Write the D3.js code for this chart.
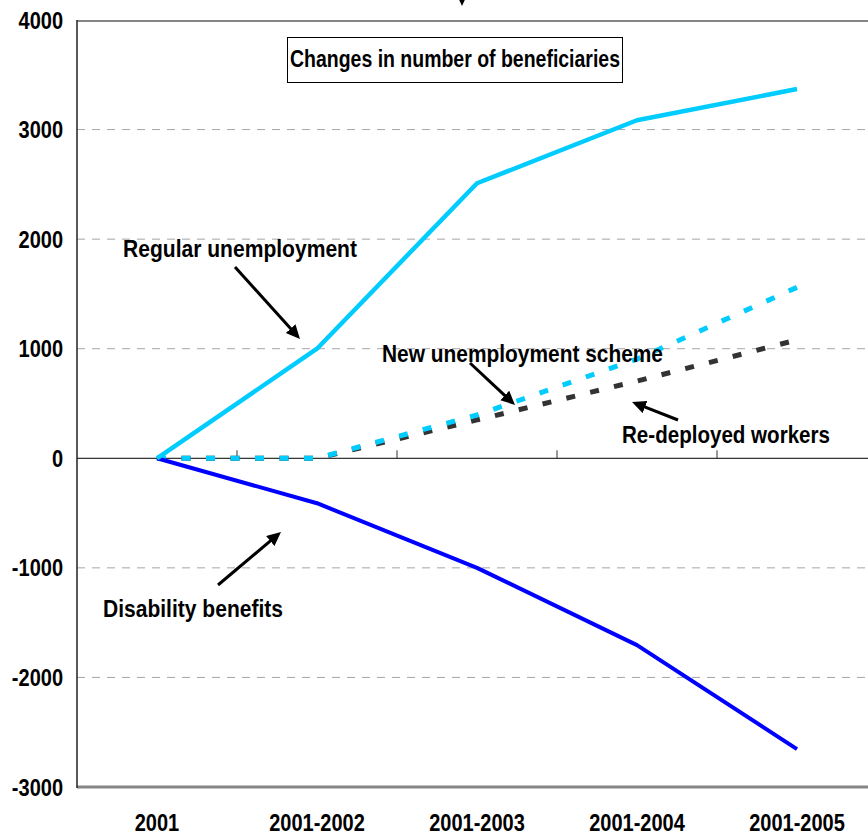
<!DOCTYPE html>
<html>
<head>
<meta charset="utf-8">
<script src="https://cdn.jsdelivr.net/npm/d3@7"></script>
<style>
  html, body { margin: 0; padding: 0; background: #fff; }
  svg { display: block; }
  text { font-family: "Liberation Sans", Arial, sans-serif; font-weight: bold; fill: #000; }
</style>
</head>
<body>
<svg id="chart" width="868" height="835"></svg>
<script>
// data
const categories = ["2001", "2001-2002", "2001-2003", "2001-2004", "2001-2005"];
const regularUnemployment = [0, 1000, 2510, 3085, 3370];
const disabilityBenefits = [0, -410, -1000, -1705, -2655];
const newUnemploymentScheme = [0, 0, 395, 905, 1560];
const redeployedWorkers = [0, 0, 350, 705, 1080];
const yTicks = [4000, 3000, 2000, 1000, 0, -1000, -2000, -3000];

const svg = d3.select("#chart");
const svgWidth = 868;
const plotLeft = 77, plotTop = 20, plotBottom = 787;

// scales
const x = d3.scaleBand().domain(categories).range([plotLeft, plotLeft + 800]).padding(0);
const cx = (c) => x(c) + x.bandwidth() / 2;
const y = d3.scaleLinear().domain([-3000, 4000]).range([plotBottom, plotTop]);

const squeeze = 0.87; // the source font is horizontally condensed

// gridlines
svg.append("g")
  .selectAll("line.grid")
  .data(yTicks.filter(v => v !== 0 && v !== 4000 && v !== -3000))
  .enter()
  .append("line")
  .attr("class", "grid")
  .attr("x1", plotLeft).attr("x2", svgWidth)
  .attr("y1", d => y(d)).attr("y2", d => y(d))
  .attr("stroke", "#a6a6a6")
  .attr("stroke-width", 1)
  .attr("stroke-dasharray", "8,7");

// zero line with category ticks
svg.append("line")
  .attr("x1", plotLeft).attr("x2", svgWidth)
  .attr("y1", y(0)).attr("y2", y(0))
  .attr("stroke", "#000").attr("stroke-width", 1);

svg.append("g")
  .selectAll("line.ctick")
  .data(categories.slice(1))
  .enter()
  .append("line")
  .attr("class", "ctick")
  .attr("x1", d => x(d)).attr("x2", d => x(d))
  .attr("y1", y(0) - 8).attr("y2", y(0))
  .attr("stroke", "#333").attr("stroke-width", 1);

// plot frame
svg.append("line").attr("x1", plotLeft).attr("x2", svgWidth).attr("y1", plotTop + 1).attr("y2", plotTop + 1)
  .attr("stroke", "#858585").attr("stroke-width", 2);
svg.append("line").attr("x1", plotLeft).attr("x2", svgWidth).attr("y1", plotBottom).attr("y2", plotBottom)
  .attr("stroke", "#858585").attr("stroke-width", 3);
svg.append("line").attr("x1", plotLeft).attr("x2", plotLeft).attr("y1", plotTop).attr("y2", plotBottom + 1)
  .attr("stroke", "#222").attr("stroke-width", 1.5);

// y axis labels (plain hyphen for negatives, like the source)
const yAxis = svg.append("g")
  .attr("transform", "translate(" + plotLeft + ",0)")
  .call(d3.axisLeft(y).tickValues(yTicks).tickSize(0).tickFormat(d => String(d)));
yAxis.select(".domain").remove();
yAxis.attr("font-family", null).attr("font-size", null);
yAxis.selectAll("text")
  .attr("font-size", 23)
  .attr("x", -14 / squeeze)
  .attr("dy", "0.35em")
  .attr("transform", "scale(" + squeeze + ",1)");

// x axis labels
const xAxis = svg.append("g")
  .attr("transform", "translate(0,815)")
  .call(d3.axisBottom(x).tickSize(0));
xAxis.select(".domain").remove();
xAxis.attr("font-family", null).attr("font-size", null);
xAxis.selectAll(".tick")
  .attr("transform", d => "translate(" + cx(d) + ",0)");
xAxis.selectAll(".tick text")
  .attr("font-size", 23)
  .attr("y", 0)
  .attr("dy", "0.7em")
  .attr("x", 0)
  .attr("transform", "scale(" + squeeze + ",1)");

// series
const line = d3.line()
  .x((d, i) => cx(categories[i]))
  .y(d => y(d));

const series = [
  { values: redeployedWorkers, color: "#333333", dash: "9,15.5", width: 5 },
  { values: newUnemploymentScheme, color: "#00ccff", dash: "9,15.5", width: 5 },
  { values: disabilityBenefits, color: "#0000ff", dash: null, width: 4 },
  { values: regularUnemployment, color: "#00ccff", dash: null, width: 4.5 }
];

svg.append("g")
  .selectAll("path.curve")
  .data(series)
  .enter()
  .append("path")
  .attr("class", "curve")
  .attr("d", d => line(d.values))
  .attr("fill", "none")
  .attr("stroke", d => d.color)
  .attr("stroke-width", d => d.width)
  .attr("stroke-dasharray", d => d.dash)
  .attr("stroke-linejoin", "round");

// arrow marker
svg.append("defs").append("marker")
  .attr("id", "head")
  .attr("markerUnits", "userSpaceOnUse")
  .attr("markerWidth", 16).attr("markerHeight", 14)
  .attr("viewBox", "0 0 16 14")
  .attr("refX", 6).attr("refY", 6.5)
  .attr("orient", "auto")
  .append("path")
  .attr("d", "M0,0 L14,6.5 L0,13 Z")
  .attr("fill", "#000");

const arrows = [
  [235, 267, 300, 339],
  [470, 363, 515, 405],
  [678, 420, 632, 402],
  [218, 585, 281, 532],
  [462, -40, 462, 6]
];

svg.append("g")
  .selectAll("line.arrow")
  .data(arrows)
  .enter()
  .append("line")
  .attr("class", "arrow")
  .each(function(d) {
    const dx = d[2] - d[0], dy = d[3] - d[1];
    const len = Math.sqrt(dx * dx + dy * dy);
    d3.select(this)
      .attr("x1", d[0]).attr("y1", d[1])
      .attr("x2", d[2] - 8 * dx / len).attr("y2", d[3] - 8 * dy / len);
  })
  .attr("stroke", "#000")
  .attr("stroke-width", 3)
  .attr("marker-end", "url(#head)");

// legend box
svg.append("rect")
  .attr("x", 287.5).attr("y", 37.5)
  .attr("width", 335).attr("height", 45)
  .attr("fill", "#fff")
  .attr("stroke", "#000").attr("stroke-width", 1);

const labels = [
  { text: "Changes in number of beneficiaries", x: 290, y: 67, w: 330, size: 23 },
  { text: "Regular unemployment", x: 123, y: 257, w: 234, size: 24 },
  { text: "New unemployment scheme", x: 382, y: 362, w: 281, size: 24 },
  { text: "Re-deployed workers", x: 622, y: 443, w: 208, size: 24 },
  { text: "Disability benefits", x: 103, y: 617, w: 180, size: 24 }
];

svg.append("g")
  .selectAll("text.note")
  .data(labels)
  .enter()
  .append("text")
  .attr("class", "note")
  .attr("x", d => d.x).attr("y", d => d.y)
  .attr("font-size", d => d.size)
  .attr("textLength", d => d.w)
  .attr("lengthAdjust", "spacingAndGlyphs")
  .text(d => d.text);
</script>
</body>
</html>
